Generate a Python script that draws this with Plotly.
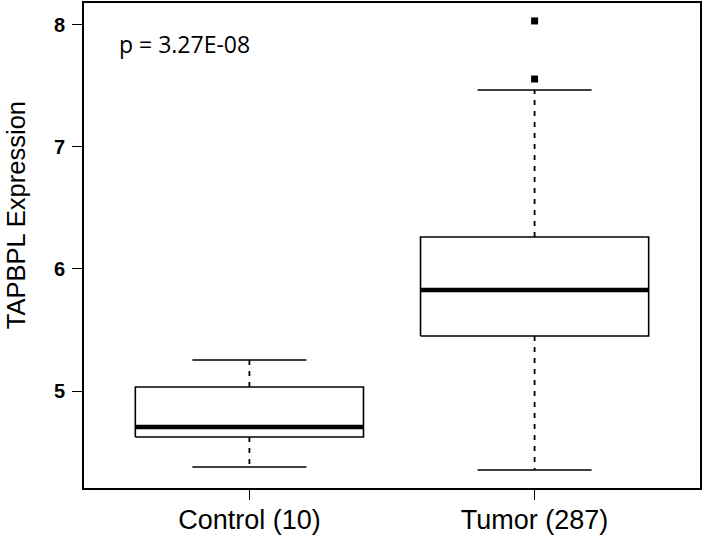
import plotly.graph_objects as go

groups = ["Control (10)", "Tumor (287)"]
lower_whisker = [4.377, 4.352]
q1 = [4.623, 5.451]
median = [4.705, 5.828]
q3 = [5.033, 6.262]
upper_whisker = [5.254, 7.467]
outliers = [[], [7.557, 8.033]]
y_ticks = [5, 6, 7, 8]
p_text = "p = 3.27E-08"
y_title = "TAPBPL Expression"

BOX_HALF = 0.4
CAP_HALF = 0.2
positions = [i + 1 for i in range(len(groups))]

fig = go.Figure()
for i, xc in enumerate(positions):
    fig.add_trace(go.Scatter(
        x=[xc - BOX_HALF, xc + BOX_HALF, xc + BOX_HALF, xc - BOX_HALF, xc - BOX_HALF],
        y=[q1[i], q1[i], q3[i], q3[i], q1[i]],
        mode="lines", line=dict(color="black", width=1.6),
        hoverinfo="skip", showlegend=False))
    fig.add_trace(go.Scatter(
        x=[xc - BOX_HALF, xc + BOX_HALF], y=[median[i], median[i]],
        mode="lines", line=dict(color="black", width=4.5),
        hoverinfo="skip", showlegend=False))
    fig.add_trace(go.Scatter(
        x=[xc, xc, None, xc, xc],
        y=[q3[i], upper_whisker[i], None, q1[i], lower_whisker[i]],
        mode="lines", line=dict(color="black", width=1.8, dash="5px,6px"),
        hoverinfo="skip", showlegend=False))
    fig.add_trace(go.Scatter(
        x=[xc - CAP_HALF, xc + CAP_HALF, None, xc - CAP_HALF, xc + CAP_HALF],
        y=[upper_whisker[i], upper_whisker[i], None, lower_whisker[i], lower_whisker[i]],
        mode="lines", line=dict(color="black", width=1.6),
        hoverinfo="skip", showlegend=False))
    if outliers[i]:
        fig.add_trace(go.Scatter(
            x=[xc] * len(outliers[i]), y=outliers[i],
            mode="markers", marker=dict(symbol="square", size=7, color="black"),
            hoverinfo="skip", showlegend=False))

fig.add_annotation(
    text=p_text, xref="paper", yref="paper", x=0.053, y=0.915,
    xanchor="left", yanchor="middle", showarrow=False,
    font=dict(family="Open Sans, Liberation Sans, sans-serif", size=23, color="black"))

fig.add_annotation(
    text=y_title, xref="paper", yref="paper", x=-0.110, y=0.563,
    xanchor="center", yanchor="middle", textangle=-90, showarrow=False,
    font=dict(family="Liberation Sans, Arial, sans-serif", size=25.5, color="black"))

fig.update_layout(
    width=705, height=535,
    margin=dict(l=84, r=5, t=3, b=47, autoexpand=False),
    paper_bgcolor="white", plot_bgcolor="white",
    showlegend=False,
    xaxis=dict(
        range=[0.42, 2.58], tickmode="array", tickvals=positions, ticktext=groups,
        showline=True, mirror=True, linecolor="black", linewidth=1.6,
        ticks="outside", ticklen=10, tickwidth=1.3, tickcolor="black",
        showgrid=False, zeroline=False, automargin=False, ticklabelstandoff=-3,
        tickfont=dict(family="Liberation Sans, Arial, sans-serif", size=27, color="black"),
    ),
    yaxis=dict(
        range=[4.205, 8.18], tickmode="array", tickvals=y_ticks,
        ticktext=["<b>%d</b>" % v for v in y_ticks],
        showline=True, mirror=True, linecolor="black", linewidth=1.6,
        ticks="outside", ticklen=10, tickwidth=1.3, tickcolor="black",
        showgrid=False, zeroline=False, ticklabelstandoff=3, automargin=False,
        tickfont=dict(family="Liberation Sans, Arial, sans-serif", size=20, color="black"),
    ),
)

fig.write_html("out.html", config={"displayModeBar": False},
               post_script="document.body.style.margin='0px';")
